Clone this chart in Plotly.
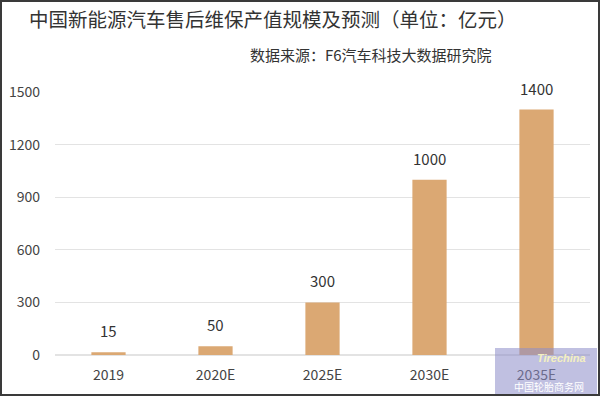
import plotly.graph_objects as go

categories = ["2019", "2020E", "2025E", "2030E", "2035E"]
values = [15, 50, 300, 1000, 1400]
y_ticks = [0, 300, 600, 900, 1200, 1500]

title_text = "中国新能源汽车售后维保产值规模及预测（单位：亿元）"
source_text = "数据来源：F6汽车科技大数据研究院"
watermark_top = "Tirechina"
watermark_bottom = "中国轮胎商务网"

W, H = 600, 396
ML, MR, MT, MB = 55, 10, 92, 41
PW, PH = W - ML - MR, H - MT - MB

FONT = "Noto Sans CJK SC, Noto Sans, sans-serif"
BAR_COLOR = "#DBA873"

xpos = list(range(len(categories)))

fig = go.Figure()
fig.add_trace(go.Bar(
    x=xpos, y=values,
    marker=dict(color=BAR_COLOR, line=dict(width=0)),
    width=0.32,
    hovertext=categories, hoverinfo="text+y",
))

for xp, v in zip(xpos, values):
    fig.add_annotation(
        x=xp, y=v, xref="x", yref="y", text=str(v), showarrow=False,
        yanchor="bottom", yshift=9,
        font=dict(family=FONT, size=15, color="#333333"),
    )

def px_x(p):
    return (p - ML) / PW

def px_y(p):
    return (H - MB - p) / PH

fig.add_annotation(
    x=px_x(27), y=px_y(19), xref="paper", yref="paper",
    text=title_text, showarrow=False, xanchor="left", yanchor="middle",
    font=dict(family=FONT, size=19.5, color="#333333"),
)
fig.add_annotation(
    x=px_x(494), y=px_y(54), xref="paper", yref="paper",
    text=source_text, showarrow=False, xanchor="right", yanchor="middle",
    font=dict(family=FONT, size=15, color="#333333"),
)

# watermark box
fig.add_shape(type="rect", xref="paper", yref="paper",
              x0=px_x(495), x1=px_x(597), y0=px_y(396), y1=px_y(348),
              fillcolor="rgba(140,140,200,0.55)", line=dict(width=0), layer="above")
fig.add_annotation(x=px_x(588), y=px_y(358), xref="paper", yref="paper",
                   text="<i><b>" + watermark_top + "</b></i>", showarrow=False,
                   xanchor="right", yanchor="middle",
                   font=dict(family="Liberation Sans", size=11, color="#f4f0c0"))
fig.add_annotation(x=px_x(586), y=px_y(386), xref="paper", yref="paper",
                   text=watermark_bottom, showarrow=False,
                   xanchor="right", yanchor="middle",
                   font=dict(family=FONT, size=10, color="#ffffff"))

# frame border
fig.add_shape(type="rect", xref="paper", yref="paper",
              x0=px_x(1), x1=px_x(W - 1), y0=px_y(H - 1), y1=px_y(1),
              line=dict(color="#3a3a3a", width=2), fillcolor="rgba(0,0,0,0)")

fig.update_layout(
    width=W, height=H,
    margin=dict(l=ML, r=MR, t=MT, b=MB, pad=0),
    paper_bgcolor="white", plot_bgcolor="white",
    showlegend=False,
    font=dict(family=FONT, size=14, color="#444444"),
    xaxis=dict(
        range=[-0.5, len(categories) - 0.5],
        tickvals=xpos, ticktext=categories,
        showgrid=False, showline=False, zeroline=False,
        ticks="", ticklabelstandoff=10,
        tickfont=dict(family=FONT, size=14, color="#444444"),
    ),
    yaxis=dict(
        range=[0, 1500], tickvals=y_ticks, showgrid=True,
        gridcolor="#E3E3E3", gridwidth=1, zeroline=True, zerolinecolor="#E3E3E3",
        showline=False, ticks="", ticklabelstandoff=14,
        tickfont=dict(family=FONT, size=14, color="#444444"),
    ),
)

fig.write_html(
    "out.html",
    config={"displayModeBar": False},
    post_script="document.body.style.margin='0';document.body.style.overflow='hidden';",
)
